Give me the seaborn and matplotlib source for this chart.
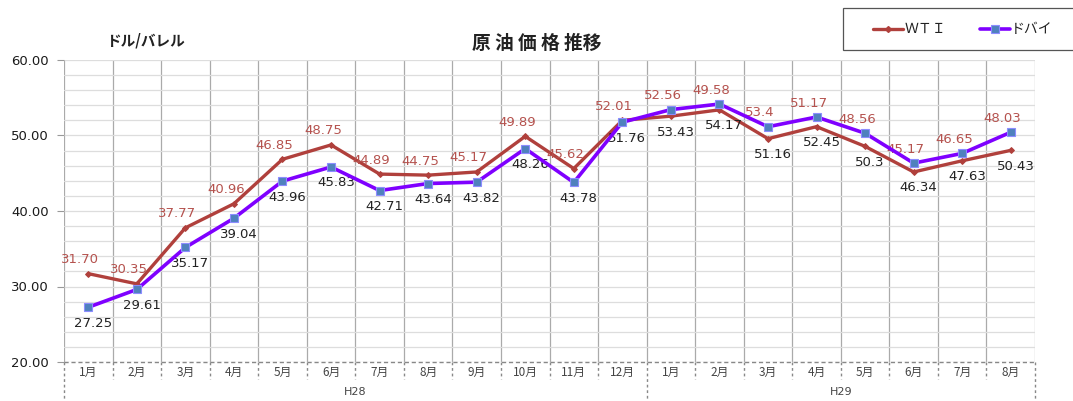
import numpy as np
import pandas as pd
import matplotlib
matplotlib.use("Agg")
import matplotlib.pyplot as plt
from matplotlib.lines import Line2D
from matplotlib.patches import Rectangle
import seaborn as sns

# 月別データ (H28: 1-12月, H29: 1-8月)
months = ["1月", "2月", "3月", "4月", "5月", "6月", "7月", "8月", "9月", "10月", "11月", "12月",
          "1月", "2月", "3月", "4月", "5月", "6月", "7月", "8月"]
groups = ["H28", "H29"]
group_sizes = [12, 8]

wti = [31.70, 30.35, 37.77, 40.96, 46.85, 48.75, 44.89, 44.75, 45.17, 49.89, 45.62, 52.01,
       52.56, 53.40, 49.58, 51.17, 48.56, 45.17, 46.65, 48.03]
dubai = [27.25, 29.61, 35.17, 39.04, 43.96, 45.83, 42.71, 43.64, 43.82, 48.26, 43.78, 51.76,
         53.43, 54.17, 51.16, 52.45, 50.30, 46.34, 47.63, 50.43]

# 図に表示されているラベル文字列
wti_labels = ["31.70", "30.35", "37.77", "40.96", "46.85", "48.75", "44.89", "44.75", "45.17",
              "49.89", "45.62", "52.01", "52.56", "49.58", "53.4", "51.17", "48.56", "45.17",
              "46.65", "48.03"]
dubai_labels = ["27.25", "29.61", "35.17", "39.04", "43.96", "45.83", "42.71", "43.64", "43.82",
                "48.26", "43.78", "51.76", "53.43", "54.17", "51.16", "52.45", "50.3", "46.34",
                "47.63", "50.43"]

WTI_COLOR = "#B0403C"
DUBAI_COLOR = "#7F00FF"
LABEL_RED = "#B5524E"
W, H = 1073, 401

sns.set_theme(style="white")
plt.rcParams["font.family"] = ["DejaVu Sans", "Noto Sans CJK JP"]

df = pd.DataFrame({"pos": np.arange(len(months)), "wti": wti, "dubai": dubai})

fig = plt.figure(figsize=(W / 100, H / 100), dpi=100)
ax = fig.add_axes([64 / W, 1 - 362 / H, (1035 - 64) / W, 302 / H])

wti_style = dict(color=WTI_COLOR, linewidth=2.4, marker="D", markersize=3,
                 markeredgecolor=WTI_COLOR)
dubai_style = dict(color=DUBAI_COLOR, linewidth=2.6, marker="s", markersize=5.5,
                   markerfacecolor="#4F81BD", markeredgecolor="#8C8CFF", markeredgewidth=0.8)

sns.lineplot(data=df, x="pos", y="wti", ax=ax, zorder=3, legend=False, **wti_style)
sns.lineplot(data=df, x="pos", y="dubai", ax=ax, zorder=4, legend=False, **dubai_style)

ax.set_xlim(-0.5, len(months) - 0.5)
ax.set_ylim(20, 60)
ax.set_yticks(np.arange(20, 61, 10))
ax.set_yticklabels([f"{v:.2f}" for v in np.arange(20, 61, 10)], fontsize=9.5, color="#1A1A1A")
ax.set_yticks(np.arange(20, 61, 2), minor=True)
ax.set_xticks(np.arange(len(months)))
ax.set_xticklabels(months, fontsize=8.5, color="#444444", family=["Noto Sans CJK JP"])
ax.set_xticks(np.arange(-0.5, len(months), 1), minor=True)
ax.tick_params(axis="x", which="both", length=0, pad=3)
ax.tick_params(axis="y", which="major", length=5, width=0.8, color="#999999", pad=6, left=True)
ax.tick_params(axis="y", which="minor", length=0)
ax.set_xlabel("")
ax.set_ylabel("")

ax.grid(axis="y", which="both", color="#DDDDDD", linewidth=0.9)
ax.grid(axis="x", which="minor", color="#AAAAAA", linewidth=0.9)
ax.grid(axis="x", which="major", visible=False)
for s in ax.spines.values():
    s.set_visible(False)

# データラベル
for i in range(len(months)):
    hi = max(wti[i], dubai[i])
    lo = min(wti[i], dubai[i])
    ax.annotate(wti_labels[i], (i, hi), xytext=(-8, 14), textcoords="offset pixels",
                ha="center", va="center", fontsize=9.5, color=LABEL_RED)
    ax.annotate(dubai_labels[i], (i, lo), xytext=(5, -16), textcoords="offset pixels",
                ha="center", va="center", fontsize=9.5, color="#222222")

# 軸下の破線枠
xt = ax.get_xaxis_transform()
ax.plot([-0.5, len(months) - 0.5], [0, 0], transform=xt, color="#888888", lw=1.0,
        ls=(0, (3, 2)), clip_on=False, zorder=5)
bounds = [0]
for n in group_sizes:
    bounds.append(bounds[-1] + n)
for k in range(len(months) + 1):
    edge = k in bounds
    ax.plot([k - 0.5, k - 0.5], [0, -0.14 if edge else -0.055], transform=xt,
            color="#888888", lw=1.0, ls=(0, (2, 2)), clip_on=False)
for g, a, b in zip(groups, bounds[:-1], bounds[1:]):
    ax.text((a + b - 1) / 2, -0.1, g, transform=xt, ha="center", va="center",
            fontsize=8, color="#444444")

# タイトルと単位
fig.text(537 / W, 1 - 43 / H, "原 油 価 格 推移", ha="center", va="center",
         fontsize=13.5, fontweight="bold", color="#222222", family=["Noto Sans CJK JP"])
fig.text(145 / W, 1 - 40 / H, "ドル/バレル", ha="center", va="center",
         fontsize=10.5, fontweight="bold", color="#222222", family=["Noto Sans CJK JP"])

# 凡例 (右上、枠は右端で切れる)
fig.add_artist(Rectangle((843 / W, 1 - 50 / H), 250 / W, 42 / H, transform=fig.transFigure,
                         facecolor="white", edgecolor="#555555", linewidth=0.9))
ly = 1 - 29 / H
fig.add_artist(Line2D([873 / W, 903 / W], [ly, ly], transform=fig.transFigure,
                      color=WTI_COLOR, linewidth=2.4))
fig.add_artist(Line2D([888 / W], [ly], transform=fig.transFigure, linestyle="none",
                      marker="D", markersize=3, color=WTI_COLOR))
fig.text(905 / W, ly, "ＷＴＩ", ha="left", va="center", fontsize=10, color="#222222",
         family=["Noto Sans CJK JP"])
fig.add_artist(Line2D([980 / W, 1010 / W], [ly, ly], transform=fig.transFigure,
                      color=DUBAI_COLOR, linewidth=2.6))
fig.add_artist(Line2D([995 / W], [ly], transform=fig.transFigure, linestyle="none",
                      marker="s", markersize=5.5, markerfacecolor="#4F81BD",
                      markeredgecolor="#8C8CFF", markeredgewidth=0.8))
fig.text(1011 / W, ly, "ドバイ", ha="left", va="center", fontsize=10, color="#222222",
         family=["Noto Sans CJK JP"])

fig.savefig("out.png", dpi=100)
